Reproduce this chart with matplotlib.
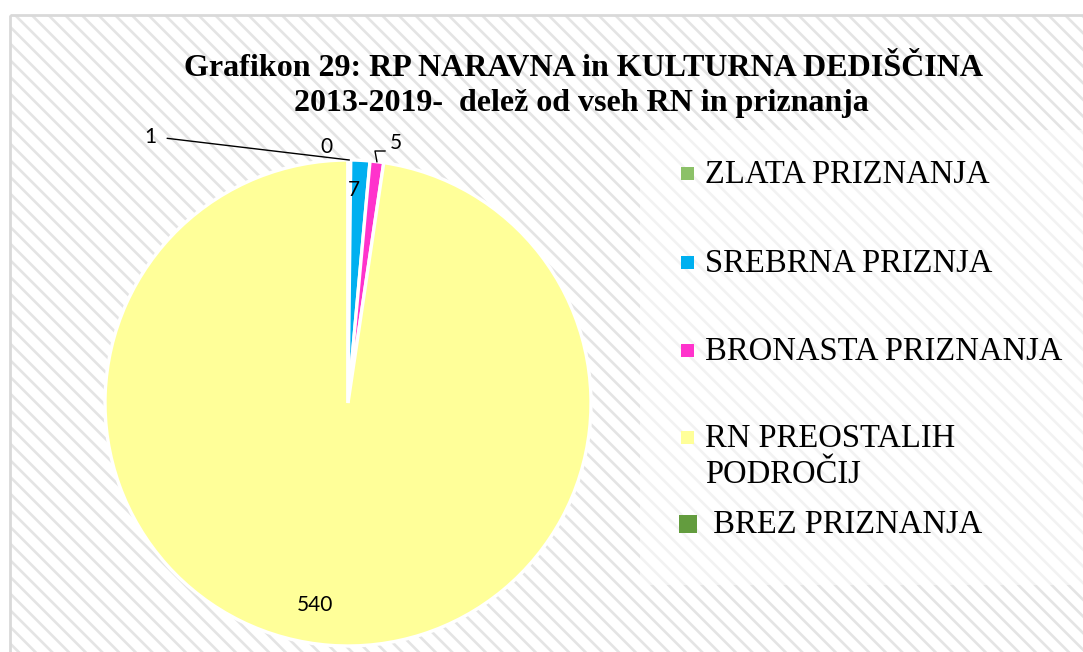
import matplotlib
matplotlib.use("Agg")
import matplotlib.pyplot as plt
from matplotlib.patches import Rectangle
import numpy as np

# ---- data ----
categories = ["ZLATA PRIZNANJA", "SREBRNA PRIZNJA", "BRONASTA PRIZNANJA",
              "RN PREOSTALIH\nPODROČIJ", " BREZ PRIZNANJA"]
values = [1, 7, 5, 540, 0]
colors = ["#8cc168", "#00b0f0", "#ff33cc", "#ffff99", "#639c3e"]
title_lines = ["Grafikon 29: RP NARAVNA in KULTURNA DEDIŠČINA",
               "2013-2019-  delež od vseh RN in priznanja"]

W, H = 1083, 652
plt.rcParams['hatch.color'] = '#e4e4e4'
plt.rcParams['hatch.linewidth'] = 1.9
fig = plt.figure(figsize=(W / 100, H / 100), dpi=100, facecolor='white')

# background axes in pixel coordinates
bg = fig.add_axes([0, 0, 1, 1])
bg.set_xlim(0, W)
bg.set_ylim(H, 0)
bg.axis('off')
bg.add_patch(Rectangle((10, 15), W, H, facecolor='white', edgecolor='#e4e4e4',
                       hatch='\\\\', lw=0, zorder=0))
bg.add_patch(Rectangle((10, 15), W, H, facecolor='none', edgecolor='#d9d9d9',
                       lw=2, zorder=1))
bg.add_patch(Rectangle((640, 130), W - 640, 455, facecolor='white', alpha=0.55,
                       lw=0, zorder=1))

# title
bg.text(583, 68, title_lines[0], ha='center', va='center', fontsize=23,
        fontweight='bold', family='Liberation Serif', zorder=3)
bg.text(581, 103, title_lines[1], ha='center', va='center', fontsize=23,
        fontweight='bold', family='Liberation Serif', zorder=3)

# legend (manual, Excel-like spacing)
leg_y = [183, 272, 360, 447, 533]
for i, (lab, col) in enumerate(zip(categories, colors)):
    if i == 4:
        bg.add_patch(Rectangle((679, 515), 18, 18, facecolor=col, lw=0, zorder=3))
    else:
        bg.add_patch(Rectangle((681, leg_y[i] - 16), 13, 13, facecolor=col, lw=0, zorder=3))
    for j, line in enumerate(lab.split("\n")):
        bg.text(705, leg_y[i] + j * 36, line, ha='left', va='baseline',
                fontsize=23.5, family='Liberation Serif', zorder=3)

# pie axes
cx, cy, r = 348, 403, 243
ax = fig.add_axes([(cx - r) / W, (H - cy - r) / H, 2 * r / W, 2 * r / H])
wedges, _ = ax.pie(values, colors=colors, startangle=90, counterclock=False,
                   radius=1, wedgeprops=dict(edgecolor='white', linewidth=2.4))
ax.set_xlim(-1, 1)
ax.set_ylim(-1, 1)
ax.set_aspect('auto')
ax.axis('off')


def px2d(px, py):
    return ((px - cx) / r, (cy - py) / r)


def mid_point(i, rad=1.0):
    w = wedges[i]
    a = np.deg2rad((w.theta1 + w.theta2) / 2)
    return (rad * np.cos(a), rad * np.sin(a))


lab_font = dict(fontsize=15, family='Lato')
# value 1 with leader line
ax.annotate(str(values[0]), xy=mid_point(0), xytext=px2d(150, 137),
            ha='center', va='center', annotation_clip=False,
            arrowprops=dict(arrowstyle='-', color='black', lw=1,
                            shrinkA=6, shrinkB=0, relpos=(1.0, 0.5)),
            **lab_font)
# value 0
ax.text(*px2d(326, 147), str(values[4]), ha='center', va='center', **lab_font)
# value 7 inside
ax.text(*px2d(354, 190), str(values[1]), ha='center', va='center', **lab_font)
# value 5 with elbow leader
p5 = mid_point(2)
e1 = px2d(375, 151)
e2 = px2d(385, 151)
ax.plot([p5[0], e1[0], e2[0]], [p5[1], e1[1], e2[1]], color='black', lw=1,
        clip_on=False)
ax.text(*px2d(396, 143), str(values[2]), ha='center', va='center', **lab_font)
# value 540
ax.text(*px2d(315, 605), str(values[3]), ha='center', va='center', **lab_font)

fig.savefig("out.png", dpi=100, facecolor='white')
